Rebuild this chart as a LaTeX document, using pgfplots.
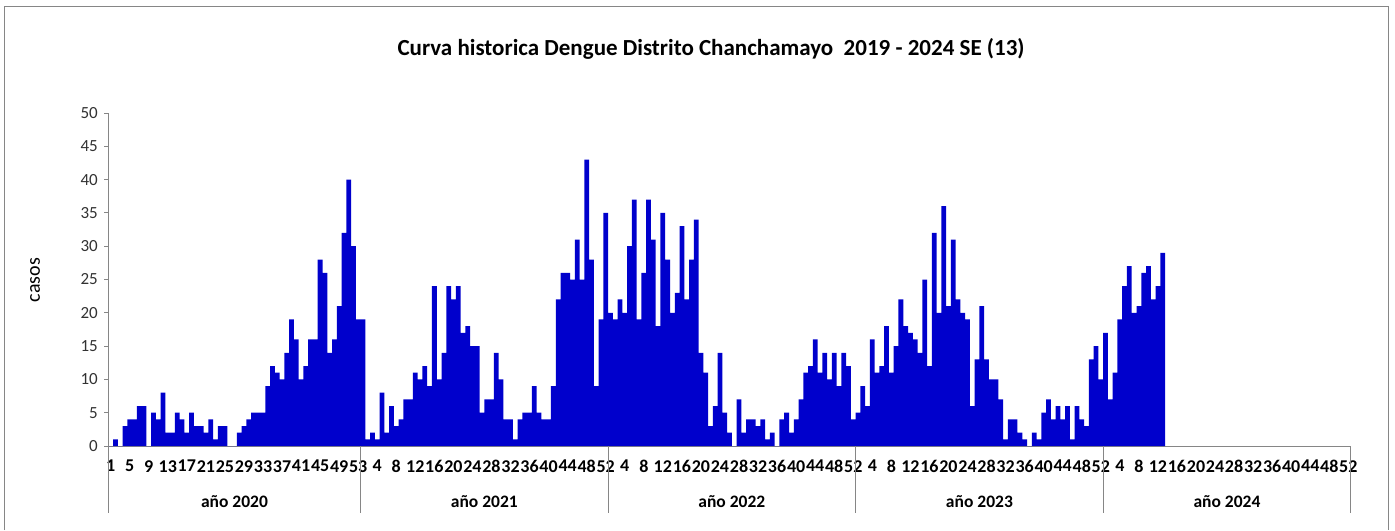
\documentclass[border=0pt]{standalone}
\usepackage{pgfplots}
\pgfplotsset{compat=1.18}
\usepackage{fontspec}
\setmainfont{Carlito}
\definecolor{barblue}{RGB}{0,0,204}
\definecolor{axgray}{RGB}{134,134,134}
\definecolor{labgray}{RGB}{50,50,50}
\begin{document}
\begin{tikzpicture}
\path (-108.3bp,-84bp) rectangle (1286.7bp,446bp);
\draw[axgray, line width=1bp] (-103.3bp,-84bp) -- (-103.3bp,439bp) -- (1279.7bp,439bp) -- (1279.7bp,-84bp);
\begin{axis}[at={(0,0)}, anchor=south west, scale only axis,
  width=1242.4bp, height=333bp,
  xmin=0.5, xmax=261.5, ymin=0, ymax=50,
  axis x line*=bottom, axis y line*=left,
  axis line style={-, draw=axgray, line width=0.9bp},
  clip=false,
  ybar, bar width=1,
  ytick={0,5,...,50},
  tick align=outside, major tick length=4bp,
  ytick style={draw=axgray, line width=0.9bp},
  xtick style={draw=none},
  /pgf/number format/assume math mode=true,
  yticklabel style={font=\fontsize{17bp}{20bp}\selectfont, text=labgray, xshift=-3bp},
  xtick={1,5,...,261},
  xticklabels={1,5,9,13,17,21,25,29,33,37,41,45,49,53,
    4,8,12,16,20,24,28,32,36,40,44,48,52,
    4,8,12,16,20,24,28,32,36,40,44,48,52,
    4,8,12,16,20,24,28,32,36,40,44,48,52,
    4,8,12,16,20,24,28,32,36,40,44,48,52},
  xticklabel style={font=\bfseries\fontsize{18bp}{22bp}\selectfont, yshift=-9bp, inner sep=1bp},
]
\addplot[fill=barblue, draw=none] coordinates {
(1,0)(2,1)(3,0)(4,3)(5,4)(6,4)(7,6)(8,6)(9,0)(10,5)(11,4)(12,8)(13,2)(14,2)(15,5)(16,4)(17,2)(18,5)(19,3)(20,3)(21,2)(22,4)(23,1)(24,3)(25,3)(26,0)(27,0)(28,2)(29,3)(30,4)(31,5)(32,5)(33,5)(34,9)(35,12)(36,11)(37,10)(38,14)(39,19)(40,16)(41,10)(42,12)(43,16)(44,16)(45,28)(46,26)(47,14)(48,16)(49,21)(50,32)(51,40)(52,30)(53,19)
(54,19)(55,1)(56,2)(57,1)(58,8)(59,2)(60,6)(61,3)(62,4)(63,7)(64,7)(65,11)(66,10)(67,12)(68,9)(69,24)(70,10)(71,14)(72,24)(73,22)(74,24)(75,17)(76,18)(77,15)(78,15)(79,5)(80,7)(81,7)(82,14)(83,10)(84,4)(85,4)(86,1)(87,4)(88,5)(89,5)(90,9)(91,5)(92,4)(93,4)(94,9)(95,22)(96,26)(97,26)(98,25)(99,31)(100,25)(101,43)(102,28)(103,9)(104,19)(105,35)
(106,20)(107,19)(108,22)(109,20)(110,30)(111,37)(112,19)(113,26)(114,37)(115,31)(116,18)(117,35)(118,28)(119,20)(120,23)(121,33)(122,22)(123,28)(124,34)(125,14)(126,11)(127,3)(128,6)(129,14)(130,5)(131,2)(132,0)(133,7)(134,2)(135,4)(136,4)(137,3)(138,4)(139,1)(140,2)(141,0)(142,4)(143,5)(144,2)(145,4)(146,7)(147,11)(148,12)(149,16)(150,11)(151,14)(152,10)(153,14)(154,9)(155,14)(156,12)(157,4)
(158,5)(159,9)(160,6)(161,16)(162,11)(163,12)(164,18)(165,11)(166,15)(167,22)(168,18)(169,17)(170,16)(171,14)(172,25)(173,12)(174,32)(175,20)(176,36)(177,21)(178,31)(179,22)(180,20)(181,19)(182,6)(183,13)(184,21)(185,13)(186,10)(187,10)(188,7)(189,1)(190,4)(191,4)(192,2)(193,1)(194,0)(195,2)(196,1)(197,5)(198,7)(199,4)(200,6)(201,4)(202,6)(203,1)(204,6)(205,4)(206,3)(207,13)(208,15)(209,10)
(210,17)(211,7)(212,11)(213,19)(214,24)(215,27)(216,20)(217,21)(218,26)(219,27)(220,22)(221,24)(222,29)
};
\draw[axgray, line width=0.9bp] (axis cs:0.5,0) -- ([yshift=-67bp]axis cs:0.5,0);
\draw[axgray, line width=0.9bp] (axis cs:53.5,0) -- ([yshift=-67bp]axis cs:53.5,0);
\draw[axgray, line width=0.9bp] (axis cs:105.5,0) -- ([yshift=-67bp]axis cs:105.5,0);
\draw[axgray, line width=0.9bp] (axis cs:157.5,0) -- ([yshift=-67bp]axis cs:157.5,0);
\draw[axgray, line width=0.9bp] (axis cs:209.5,0) -- ([yshift=-67bp]axis cs:209.5,0);
\draw[axgray, line width=0.9bp] (axis cs:261.5,0) -- ([yshift=-67bp]axis cs:261.5,0);
\node[font=\bfseries\fontsize{17.5bp}{21bp}\selectfont] at ([yshift=-56bp]axis cs:27,0) {año 2020};
\node[font=\bfseries\fontsize{17.5bp}{21bp}\selectfont] at ([yshift=-56bp]axis cs:79.5,0) {año 2021};
\node[font=\bfseries\fontsize{17.5bp}{21bp}\selectfont] at ([yshift=-56bp]axis cs:131.5,0) {año 2022};
\node[font=\bfseries\fontsize{17.5bp}{21bp}\selectfont] at ([yshift=-56bp]axis cs:183.5,0) {año 2023};
\node[font=\bfseries\fontsize{17.5bp}{21bp}\selectfont] at ([yshift=-56bp]axis cs:235.5,0) {año 2024};
\end{axis}
\node[font=\bfseries\fontsize{23bp}{27bp}\selectfont] at (602.7bp,397bp) {Curva historica Dengue Distrito Chanchamayo\ \ 2019 - 2024 SE (13)};
\node[font=\fontsize{20bp}{24bp}\selectfont, rotate=90] at (-73.3bp,166bp) {casos};
\end{tikzpicture}
\end{document}
